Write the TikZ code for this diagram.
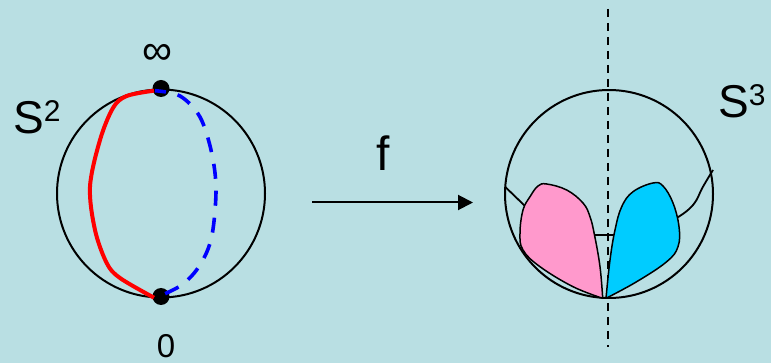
\documentclass[tikz,border=0pt]{standalone}
\usepackage{fontspec}
\setmainfont{Liberation Sans}
\usetikzlibrary{arrows.meta}
\definecolor{bgc}{HTML}{B9DFE3}
\definecolor{pinkf}{HTML}{FF99CC}
\definecolor{bluef}{HTML}{00CCFF}
\tikzset{
  circ/.style={draw=black,line width=2pt},
  thin line/.style={draw=black,line width=1.8pt},
  petal/.style={draw=black,line width=1.5pt},
  lbl/.style={inner sep=0pt,text=black},
  dot/.style={circle,fill=black,inner sep=0pt,minimum size=17pt},
}
\begin{document}
\begin{tikzpicture}[x=1pt,y=-1pt]
\useasboundingbox (0,0) rectangle (771,363);
\fill[bgc] (0,0) rectangle (771,363);
% left sphere
\draw[circ] (161,193.5) circle[radius=104];
\node[dot] (inf) at (161,88.5) {};
\node[dot] (zero) at (161,296.5) {};
\draw[red,line width=4pt,line join=round] plot[smooth,tension=.55] coordinates {(154,90.7) (126.7,96) (113,108) (100,140) (90,186.7) (95,230) (106.7,263) (120,278) (154,297.7)};
\draw[blue,line width=3.6pt,dash pattern=on 15pt off 12pt,dash phase=4pt] plot[smooth,tension=.55] coordinates {(155,90.7) (180,96) (200,117) (211.7,153) (216,190) (211.7,236.7) (200,265) (181.7,285) (155,298)};
\node[lbl,font=\fontsize{42}{42}\selectfont] (inflabel) at (157,54) {∞};
\node[lbl,font=\fontsize{33}{33}\selectfont] (zerolabel) at (166,346) {0};
\node[lbl,anchor=base west,font=\fontsize{46}{46}\selectfont] (s2) at (13,134) {S\raisebox{12pt}{\fontsize{30}{30}\selectfont 2}};
% arrow
\coordinate (a1) at (312,202.5);
\coordinate (a2) at (473,202.5);
\draw[black,line width=2pt,-{Triangle[length=15pt,width=15pt]}] (a1) -- (a2);
\node[lbl,anchor=base,font=\fontsize{48}{48}\selectfont] (f) at (383,171) {f};
% right sphere
\coordinate (axt) at (608,9);
\coordinate (axb) at (608,347);
\draw[black,line width=2pt,dash pattern=on 8pt off 6pt] (axt) -- (axb);
\draw[circ] (609,194) circle[radius=104];
\draw[thin line] (505,186.7) -- (525.7,206.7);
\draw[thin line] plot[smooth,tension=.8] coordinates {(677.7,217.3) (693,205) (703,186.7) (713,170)};
\draw[thin line] (595,235) -- (614,235);
\draw[petal,fill=pinkf] plot[smooth,tension=.65] coordinates {(602.7,298.3) (600,266.7) (594.5,235) (590,216.7) (583,203) (566.7,190) (546.7,184) (538,186) (530,196.7) (523,210) (520,233) (523,250) (540,266.7) (573,286.7) (602.7,298.3)};
\draw[petal,fill=bluef] plot[smooth,tension=.65] coordinates {(606,298.3) (610,260) (615,230) (621.7,206.7) (633,191.7) (653,183) (663,186) (673,203) (679,226.7) (678,246.7) (666.7,261.7) (636.7,281.7) (606,298.3)};
\node[lbl,anchor=base west,font=\fontsize{46}{46}\selectfont] (s3) at (718,118) {S\raisebox{12pt}{\fontsize{30}{30}\selectfont 3}};
\end{tikzpicture}
\end{document}
